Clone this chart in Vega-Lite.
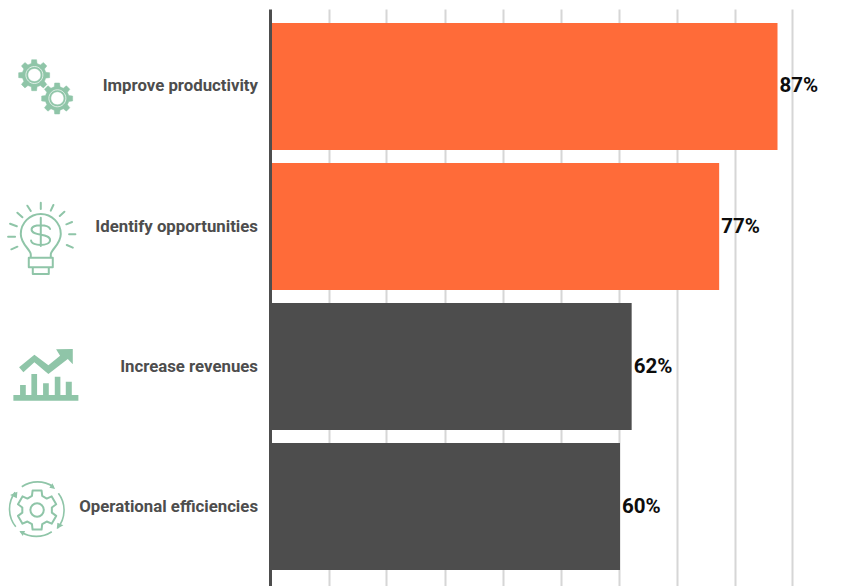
{
  "$schema": "https://vega.github.io/schema/vega-lite/v6.json",
  "width": 525,
  "height": 577,
  "autosize": "none",
  "padding": {"left": 270, "top": 9, "right": 51, "bottom": 0},
  "background": "white",
  "config": {"view": {"stroke": null}, "font": "Roboto"},
  "data": {"values": [
    {"goal": "Improve productivity", "share": 0.87, "tier": "top"},
    {"goal": "Identify opportunities", "share": 0.77, "tier": "top"},
    {"goal": "Increase revenues", "share": 0.62, "tier": "rest"},
    {"goal": "Operational efficiencies", "share": 0.60, "tier": "rest"}
  ]},
  "encoding": {
    "y": {
      "field": "goal", "type": "nominal", "sort": null, "title": null,
      "scale": {"paddingInner": 0.093, "paddingOuter": 0.107, "align": 0.467},
      "axis": {
        "ticks": false, "grid": false, "zindex": 1,
        "domainColor": "#4d4d4d", "domainWidth": 3,
        "labelFont": "Roboto", "labelFontWeight": 700, "labelFontSize": 16.8,
        "labelColor": "#4d4d4d", "labelPadding": 12.5, "labelLimit": 260
      }
    }
  },
  "layer": [
    {
      "mark": {"type": "bar", "opacity": 1},
      "encoding": {
        "x": {
          "field": "share", "type": "quantitative", "title": null,
          "scale": {"domain": [0, 0.9], "nice": false},
          "axis": {
            "values": [0.1003, 0.1997, 0.2992, 0.3986, 0.498, 0.5975, 0.6969, 0.7963, 0.8957],
            "labels": false, "ticks": false, "domain": false,
            "grid": true, "gridColor": "#d6d6d6", "gridWidth": 2, "zindex": 0
          }
        },
        "color": {
          "field": "tier", "type": "nominal", "legend": null,
          "scale": {"domain": ["top", "rest"], "range": ["#ff6b39", "#4d4d4d"]}
        }
      }
    },
    {
      "mark": {"type": "text", "align": "left", "baseline": "middle", "dx": 2, "font": "Roboto", "fontWeight": 700, "fontSize": 20.5, "color": "#0d0d0d"},
      "encoding": {
        "x": {"field": "share", "type": "quantitative"},
        "text": {"field": "share", "type": "quantitative", "format": ".0%"}
      }
    },
    {
      "transform": [{"filter": "datum.tier === 'top' && datum.share > 0.8"}],
      "mark": {"type": "point", "filled": true, "opacity": 1, "size": 4, "fill": "#8fc5a8", "stroke": "#8fc5a8", "strokeWidth": 0.5, "strokeJoin": "round",
        "shape": "M6.2,-14.2 l3.86,.45 l0,4.9 l-3.86,.45 l-1.35,3.28 l2.41,3.05 l-3.47,3.47 l-3.05,-2.41 l-3.28,1.35 l-.45,3.86 l-4.9,0 l-.45,-3.86 l-3.28,-1.35 l-3.05,2.41 l-3.47,-3.47 l2.41,-3.05 l-1.35,-3.28 l-3.86,-.45 l0,-4.9 l3.86,-.45 l1.35,-3.28 l-2.41,-3.05 l3.47,-3.47 l3.05,2.41 l3.28,-1.35 l.45,-3.86 l4.9,0 l.45,3.86 l3.28,1.35 l3.05,-2.41 l3.47,3.47 l-2.41,3.05 Z M1.3,-11.5 A6.5,6.5 0 1 0 -11.7,-11.5 A6.5,6.5 0 1 0 1.3,-11.5 Z M29.2,9.1 l3.86,.45 l0,4.9 l-3.86,.45 l-1.35,3.28 l2.41,3.05 l-3.47,3.47 l-3.05,-2.41 l-3.28,1.35 l-.45,3.86 l-4.9,0 l-.45,-3.86 l-3.28,-1.35 l-3.05,2.41 l-3.47,-3.47 l2.41,-3.05 l-1.35,-3.28 l-3.86,-.45 l0,-4.9 l3.86,-.45 l1.35,-3.28 l-2.41,-3.05 l3.47,-3.47 l3.05,2.41 l3.28,-1.35 l.45,-3.86 l4.9,0 l.45,3.86 l3.28,1.35 l3.05,-2.41 l3.47,3.47 l-2.41,3.05 Z M24.3,11.8 A6.5,6.5 0 1 0 11.3,11.8 A6.5,6.5 0 1 0 24.3,11.8 Z"},
      "encoding": {"x": {"datum": -0.395, "type": "quantitative"}}
    },
    {
      "transform": [{"filter": "datum.tier === 'top' && datum.share > 0.8"}],
      "mark": {"type": "point", "filled": false, "opacity": 1, "size": 4, "stroke": "#ffffff", "strokeWidth": 0.7,
        "shape": "M3.3,-11.5 A8.5,8.5 0 1 0 -13.7,-11.5 A8.5,8.5 0 1 0 3.3,-11.5 Z M26.3,11.8 A8.5,8.5 0 1 0 9.3,11.8 A8.5,8.5 0 1 0 26.3,11.8 Z"},
      "encoding": {"x": {"datum": -0.395, "type": "quantitative"}}
    },
    {
      "transform": [{"filter": "datum.tier === 'top' && datum.share < 0.8"}],
      "mark": {"type": "point", "filled": false, "opacity": 1, "size": 4, "stroke": "#8fc5a8", "strokeWidth": 2, "strokeCap": "round", "strokeJoin": "round",
        "shape": "M-8.8,31.2 L-8.8,28 C-8.8,23 -18.8,18 -18.8,7.5 A20,20 0 0 1 21.2,7.5 C21.2,18 11.2,23 11.2,28 L11.2,31.2 M-10.8,31.2 L13.2,31.2 L13.2,40.8 L-10.8,40.8 Z M-6.8,40.8 L-6.8,47.5 L9.2,47.5 L9.2,40.8 M1.2,-8.8 L1.2,19.5 M10.5,2.5 C9,-2 -8,-3 -8,3 C-8,10 10.5,6.5 10.5,13.5 C10.5,20 -8,20 -8.5,14 M-12.2,-20.8 L-8.8,-15.5 M1.2,-23.8 L1.2,-17.5 M13.8,-21.5 L11.2,-15.8 M24.8,-14.8 L20.2,-10.5 M32.5,-4.5 L26.8,-2.2 M35.8,7.8 L29.5,7.8 M33.2,21.2 L27.2,18.5 M-22.2,-13.8 L-17.2,-9.2 M-29.5,-2.8 L-22.8,-0.2 M-31.5,10.2 L-24.5,10.2 M-28.2,22.8 L-22.2,20.2"},
      "encoding": {"x": {"datum": -0.395, "type": "quantitative"}}
    },
    {
      "transform": [{"filter": "datum.share === 0.62"}],
      "mark": {"type": "point", "filled": true, "opacity": 1, "size": 4, "fill": "#8fc5a8", "strokeWidth": 0,
        "shape": "M-26.2,28.5 L38.8,28.5 L38.8,34.2 L-26.2,34.2 Z M-19.5,18.5 L-13.8,18.5 L-13.8,28.5 L-19.5,28.5 Z M-8.2,7.5 L-2.5,7.5 L-2.5,28.5 L-8.2,28.5 Z M3.5,16.8 L9.2,16.8 L9.2,28.5 L3.5,28.5 Z M15.2,10.2 L20.8,10.2 L20.8,28.5 L15.2,28.5 Z M26.2,15.2 L32.2,15.2 L32.2,28.5 L26.2,28.5 Z M-20.5,0.8 L-5.2,-11.8 L8.8,-1.2 L20.5,-10.8 L16.5,-17.2 L33.2,-17.5 L33.2,-2.2 L28.2,-7.5 L8.8,7.5 L-5.2,-4.2 L-16.2,5.8 Z"},
      "encoding": {"x": {"datum": -0.395, "type": "quantitative"}}
    },
    {
      "transform": [{"filter": "datum.share === 0.6"}],
      "mark": {"type": "point", "filled": false, "opacity": 1, "size": 4, "stroke": "#8fc5a8", "strokeWidth": 2, "strokeJoin": "round", "strokeCap": "round",
        "shape": "M-7.63,-10.6 l.63,-5.4 l9,0 l.63,5.4 l4.51,2.61 l4.96,-2.15 l4.5,7.79 l-4.33,3.25 l0,5.2 l4.33,3.25 l-4.5,7.79 l-4.96,-2.15 l-4.51,2.61 l-.63,5.4 l-9,0 l-.63,-5.4 l-4.51,-2.61 l-4.96,2.15 l-4.5,-7.79 l4.33,-3.25 l0,-5.2 l-4.33,-3.25 l4.5,-7.79 l4.96,2.15 Z M4.2,3.5 A6.7,6.7 0 1 0 -9.2,3.5 A6.7,6.7 0 1 0 4.2,3.5 Z"},
      "encoding": {"x": {"datum": -0.395, "type": "quantitative"}}
    },
    {
      "transform": [{"filter": "datum.share === 0.6"}],
      "mark": {"type": "point", "filled": false, "opacity": 1, "size": 4, "stroke": "#8fc5a8", "strokeWidth": 1.6, "strokeJoin": "round",
        "shape": "M-17.8,-19.8 A28,28 0 0 1 13.8,-19.8 M18.8,-13.2 A28,28 0 0 1 17.8,21.8 M12.2,25.2 A28,28 0 0 1 -18.8,25.2 M-23.8,20.2 A28,28 0 0 1 -24.5,-14.2"},
      "encoding": {"x": {"datum": -0.395, "type": "quantitative"}}
    },
    {
      "transform": [{"filter": "datum.share === 0.6"}],
      "mark": {"type": "point", "filled": true, "opacity": 1, "size": 4, "fill": "#8fc5a8", "strokeWidth": 0,
        "shape": "M15.5,-17.5 L9.8,-18.8 L12.8,-23.2 Z M17.2,22.5 L17.8,16.2 L23.8,18.8 Z M-20.2,24.5 L-14.5,24.5 L-16.8,29.5 Z M-22.2,-14.8 L-29.5,-11.5 L-22.8,-8.2 Z"},
      "encoding": {"x": {"datum": -0.395, "type": "quantitative"}}
    }
  ]
}
